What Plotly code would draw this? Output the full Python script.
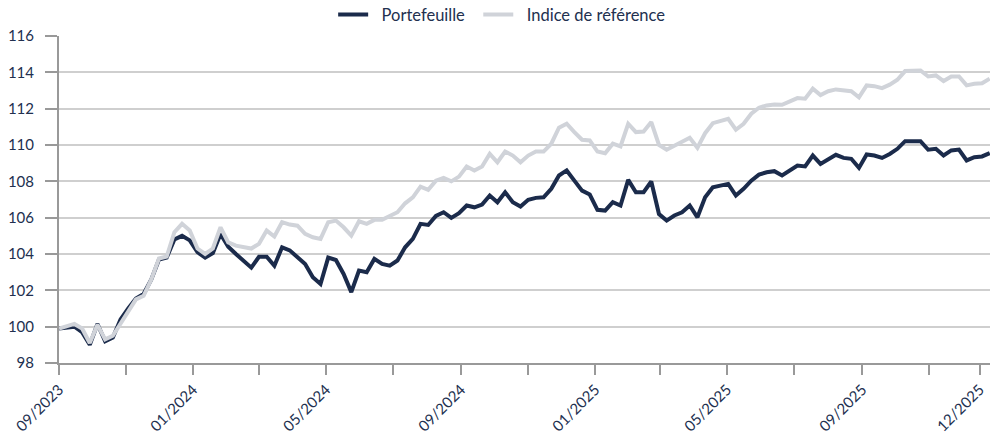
import pandas as pd
import plotly.graph_objects as go

dates = pd.date_range("2023-09-01", periods=122, freq="7D")

portefeuille = [
    99.9, 99.95, 100.0, 99.7, 99.0, 100.15, 99.2, 99.4, 100.4, 101.0,
    101.55, 101.8, 102.6, 103.7, 103.8, 104.8, 105.0, 104.75, 104.1, 103.8,
    104.05, 105.1, 104.4, 104.0, 103.6, 103.25, 103.85, 103.85, 103.35, 104.37,
    104.2, 103.85, 103.45, 102.72, 102.35, 103.8, 103.67, 102.9, 101.9, 103.09,
    103.0, 103.73, 103.45, 103.36, 103.64, 104.37, 104.83, 105.66, 105.6, 106.1,
    106.3, 105.99, 106.25, 106.67, 106.57, 106.72, 107.22, 106.85, 107.4, 106.85,
    106.61, 106.98, 107.09, 107.12, 107.59, 108.32, 108.6, 108.04, 107.49, 107.27,
    106.43, 106.39, 106.85, 106.67, 108.08, 107.4, 107.4, 107.99, 106.2, 105.84,
    106.12, 106.3, 106.67, 106.02, 107.12, 107.67, 107.77, 107.86, 107.22, 107.59,
    108.04, 108.37, 108.5, 108.56, 108.32, 108.6, 108.87, 108.82, 109.42, 108.96,
    109.24, 109.46, 109.29, 109.24, 108.74, 109.48, 109.42, 109.29, 109.51, 109.79,
    110.21, 110.21, 110.21, 109.74, 109.79, 109.42, 109.7, 109.75, 109.15, 109.33,
    109.37, 109.55,
]

indice = [
    99.9, 100.05, 100.15, 99.9, 99.1, 100.1, 99.3, 99.5, 100.2, 100.85,
    101.5, 101.7, 102.6, 103.75, 103.86, 105.2, 105.66, 105.3, 104.3, 104.0,
    104.3, 105.47, 104.64, 104.46, 104.4, 104.3, 104.56, 105.29, 104.96, 105.75,
    105.62, 105.56, 105.11, 104.92, 104.83, 105.75, 105.84, 105.47, 105.01, 105.8,
    105.66, 105.88, 105.88, 106.06, 106.3, 106.79, 107.12, 107.71, 107.53, 108.04,
    108.19, 108.0, 108.26, 108.82, 108.6, 108.82, 109.51, 109.05, 109.64, 109.42,
    109.05, 109.42, 109.64, 109.64, 110.07, 110.95, 111.17, 110.71, 110.29, 110.25,
    109.64, 109.55, 110.07, 109.92, 111.17, 110.71, 110.74, 111.26, 110.01, 109.74,
    109.97, 110.15, 110.4, 109.85, 110.65, 111.2, 111.31, 111.44, 110.84, 111.17,
    111.72, 112.05, 112.18, 112.23, 112.21, 112.41, 112.58, 112.55, 113.1, 112.75,
    112.96, 113.06, 113.0, 112.96, 112.63, 113.28, 113.24, 113.13, 113.32, 113.59,
    114.07, 114.07, 114.1, 113.77, 113.83, 113.52, 113.77, 113.77, 113.28, 113.37,
    113.4, 113.65,
]

tick_dates = ["2023-09-01", "2023-11-01", "2024-01-01", "2024-03-01", "2024-05-01",
              "2024-07-01", "2024-09-01", "2024-11-01", "2025-01-01", "2025-03-01",
              "2025-05-01", "2025-07-01", "2025-09-01", "2025-11-01", "2025-12-17"]
tick_labels = ["09/2023", "", "01/2024", "", "05/2024", "", "09/2024", "",
               "01/2025", "", "05/2025", "", "09/2025", "", "12/2025"]
y_ticks = [98, 100, 102, 104, 106, 108, 110, 112, 114, 116]
series_names = ["Portefeuille", "Indice de référence"]

NAVY = "#1b2b4b"
GREY = "#d0d3d9"
TEXT = "#22304f"
NB = "\u00a0\u00a0"

fig = go.Figure()
fig.add_trace(go.Scatter(x=dates, y=portefeuille, mode="lines", name=NB + series_names[0] + NB,
                         line=dict(color=NAVY, width=4)))
fig.add_trace(go.Scatter(x=dates, y=indice, mode="lines", name=NB + series_names[1],
                         line=dict(color=GREY, width=4)))

fig.update_layout(
    width=990, height=446,
    margin=dict(l=59, r=0, t=36, b=83, autoexpand=False),
    paper_bgcolor="white", plot_bgcolor="white",
    font=dict(family="Lato, sans-serif", size=15, color=TEXT),
    legend=dict(orientation="h", x=0.476, xanchor="center", y=1.065, yanchor="middle",
                font=dict(size=16.5, color=TEXT), bgcolor="rgba(0,0,0,0)"),
    showlegend=True,
)
fig.update_xaxes(
    type="date", range=["2023-09-01", "2025-12-26 06:00"],
    tickmode="array", tickvals=tick_dates, ticktext=tick_labels,
    tickangle=-45, ticks="outside", ticklen=10, tickwidth=1.5, tickcolor="#999999",
    showline=True, linecolor="#999999", linewidth=2,
    showgrid=False, zeroline=False, automargin=False, ticklabeloverflow="allow",
)
fig.update_yaxes(
    range=[98, 116], tickmode="array", tickvals=y_ticks,
    ticks="outside", ticklen=12, tickwidth=1.5, tickcolor="#999999",
    showline=True, linecolor="#999999", linewidth=2,
    showgrid=True, gridcolor="#cfcfcf", gridwidth=1.5, zeroline=False,
    ticklabelstandoff=8, automargin=False, ticklabeloverflow="allow",
)

fig.write_html(
    "out.html",
    config={"displayModeBar": False},
    post_script="document.body.style.margin='0px';document.body.style.overflow='hidden';",
)
